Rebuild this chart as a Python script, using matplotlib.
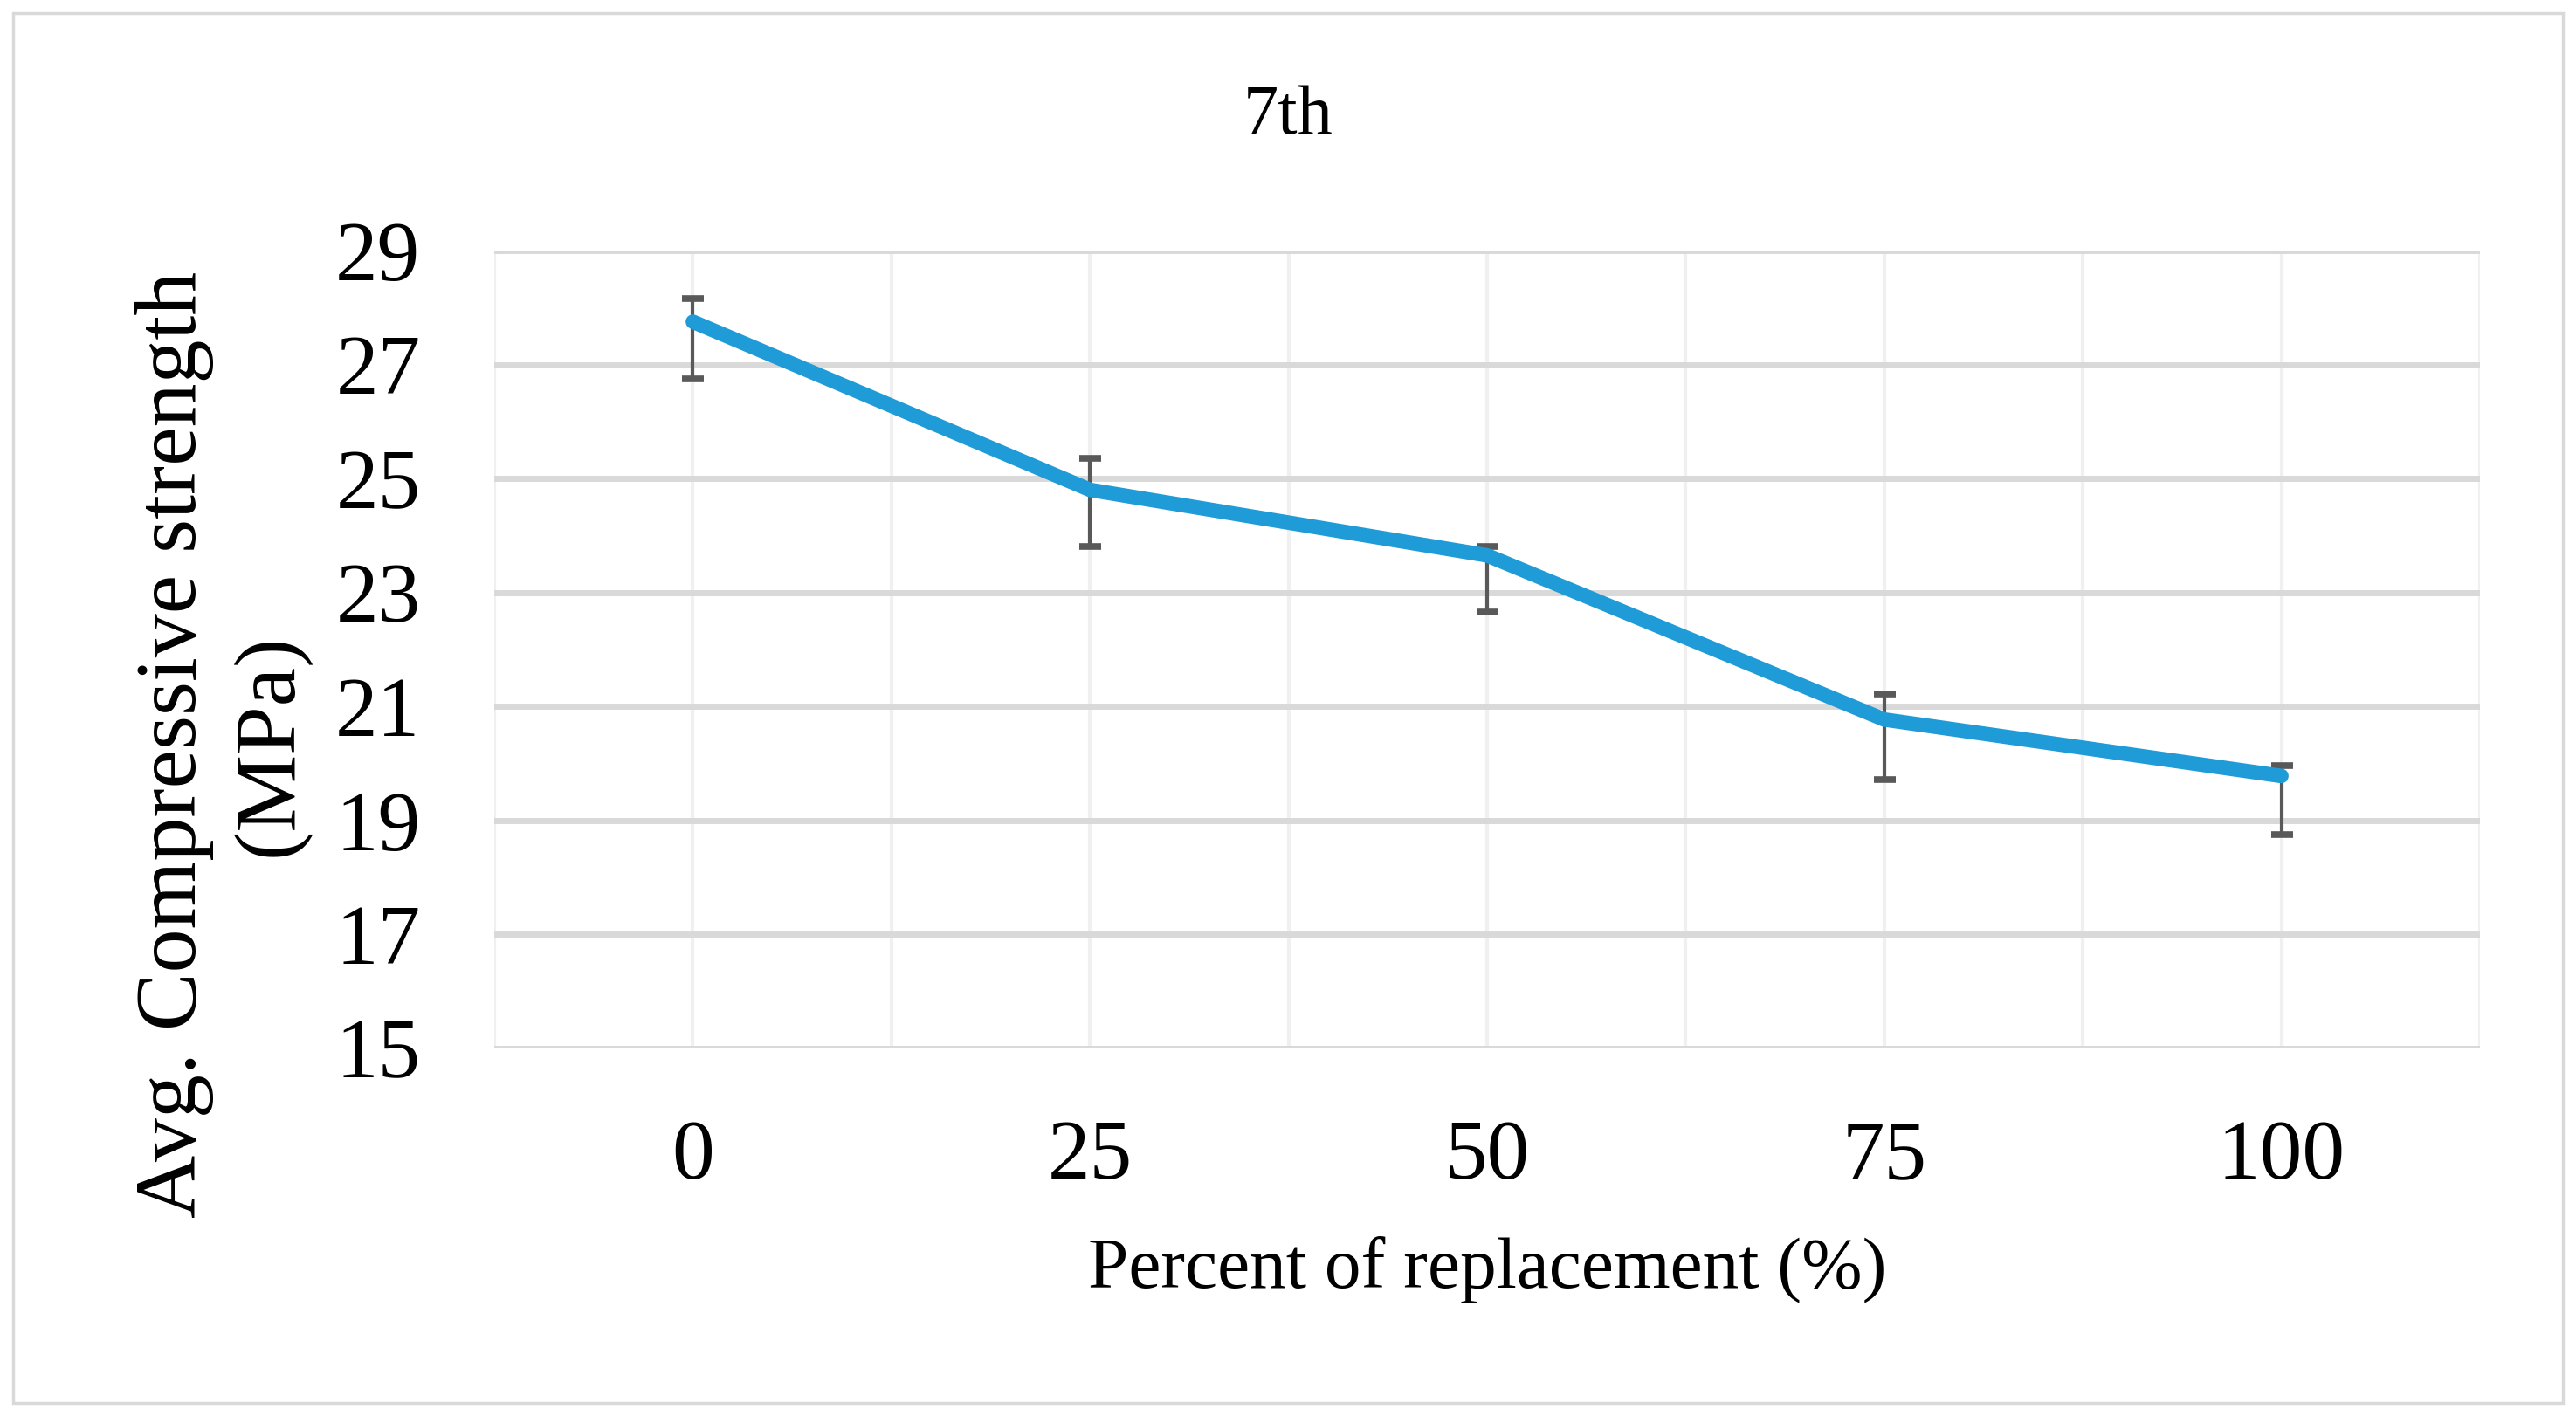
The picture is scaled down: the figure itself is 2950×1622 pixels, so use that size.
import numpy as np
import matplotlib
matplotlib.use("Agg")
import matplotlib.pyplot as plt
from matplotlib.patches import Rectangle

# data
replacement = ["0", "25", "50", "75", "100"]
strength    = [27.75, 24.8, 23.65, 20.77, 19.78]
err_plus    = [0.40, 0.55, 0.15, 0.45, 0.18]
err_minus   = [1.00, 1.00, 1.00, 1.05, 1.03]
y_ticks     = [15, 17, 19, 21, 23, 25, 27, 29]

LINE  = "#1F9BD7"
ERR   = "#595959"
HGRID = "#D9D9D9"
VGRID = "#F0F0F0"

plt.rcParams.update({
    "font.family": ["Liberation Serif", "DejaVu Serif"],
    "font.size":   60,
    "text.color":  "black",
})

fig = plt.figure(figsize=(29.5, 16.22), dpi=100)
fig.patches.append(Rectangle((0.005, 0.009), 0.99, 0.982, transform=fig.transFigure,
                             fill=False, edgecolor=HGRID, linewidth=2.5))

ax = fig.add_axes([0.1919, 0.2596, 0.7708, 0.5635])
x = np.arange(len(replacement))

# grid: horizontal major lines, vertical lines at category centres and edges
for yv in y_ticks:
    ax.axhline(yv, color=HGRID, linewidth=5, zorder=1)
for xv in np.arange(-0.5, len(replacement), 0.5):
    ax.axvline(xv, color=VGRID, linewidth=3, zorder=0)

ax.errorbar(x, strength, yerr=[err_minus, err_plus], fmt="none",
            ecolor=ERR, elinewidth=3, capsize=9, capthick=5.5, zorder=2)
ax.plot(x, strength, color=LINE, linewidth=12, solid_capstyle="round",
        solid_joinstyle="round", zorder=3)

ax.set_xlim(-0.5, len(replacement) - 0.5)
ax.set_ylim(15, 29)
ax.set_xticks(x)
ax.set_xticklabels(replacement)
ax.set_yticks(y_ticks)
ax.tick_params(axis="both", length=0, labelsize=70)
ax.tick_params(axis="y", pad=61)
ax.tick_params(axis="x", pad=59)
for s in ax.spines.values():
    s.set_visible(False)

ax.set_xlabel("Percent of replacement (%)", fontsize=60, labelpad=32)
fig.text(0.5, 0.918, "7th", ha="center", va="center", fontsize=58)
fig.text(0.0864, 0.474, "Avg. Compressive strength\n(MPa)", rotation=90,
         ha="center", va="center", fontsize=72, linespacing=1.27, multialignment="center")

fig.savefig("out.png", dpi=100, facecolor="white")
